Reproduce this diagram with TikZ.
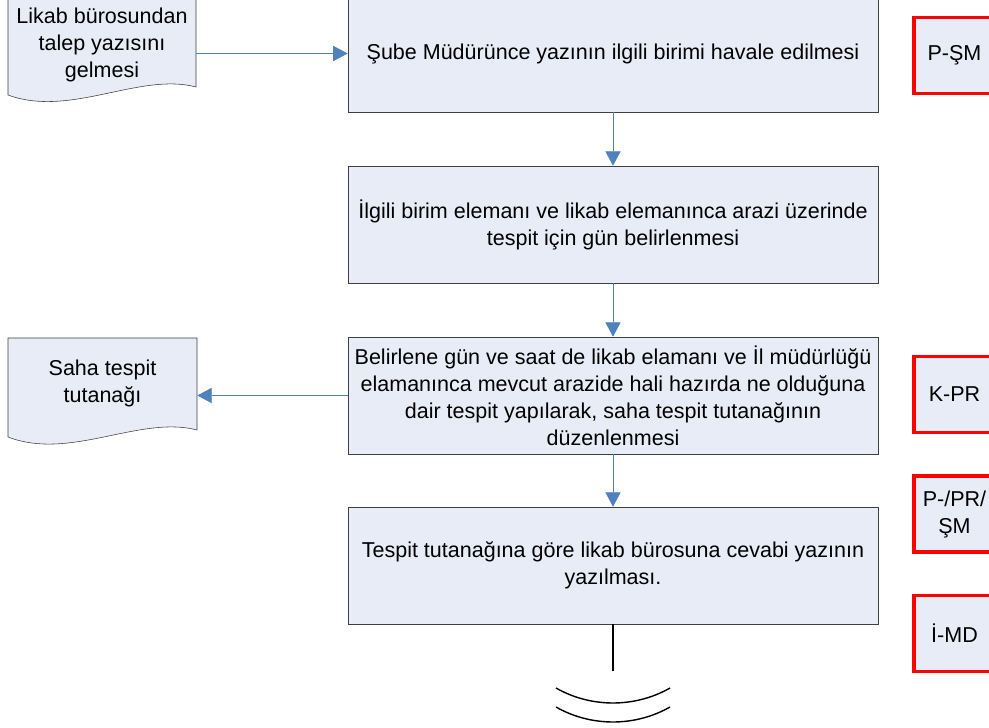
\documentclass[tikz,border=0pt]{standalone}
\usepackage{fontspec}
\setmainfont{Liberation Sans}
\usetikzlibrary{arrows.meta}
\definecolor{boxfill}{HTML}{E8ECF7}
\definecolor{arrowblue}{HTML}{4F81BD}

\begin{document}
\begin{tikzpicture}[x=0.025cm,y=-0.025cm,
    every node/.style={font=\fontsize{15.3}{19.2}\selectfont, align=center},
    stepbox/.style={draw=black!75, fill=boxfill, minimum width=13.25cm, minimum height=2.925cm, inner sep=0pt},
    codebox/.style={draw=red, line width=2.5pt, fill=boxfill, minimum width=2.025cm, minimum height=1.9cm, inner sep=0pt},
    docline/.style={draw=black!75, fill=boxfill},
    flow/.style={arrowblue, -{Triangle[length=0.36cm,width=0.38cm]}}]
    \useasboundingbox (0,0) rectangle (989,728);
    \clip (0,0) rectangle (989,728);
    \draw[docline] (8,-2) -- (196,-2) -- (196,87) .. controls (140,72) and (70,118) .. (8,95) -- cycle;
    \draw[docline] (8,338) -- (197,338) -- (197,430) .. controls (140,415) and (70,461) .. (8,437) -- cycle;
    \node[minimum width=4.7cm](doc1) at (102,45) {Likab bürosundan\\talep yazısını\\gelmesi};
    \node[minimum width=4.725cm](doc2) at (102.5,383) {Saha tespit\\tutanağı};
    \node[stepbox](b1) at (613,53.5) {Şube Müdürünce yazının ilgili birimi havale edilmesi};
    \node[stepbox](b2) at (613,224.5) {İlgili birim elemanı ve likab elemanınca arazi üzerinde\\tespit için gün belirlenmesi};
    \node[stepbox](b3) at (613,395.5) {Belirlene gün ve saat de likab elamanı ve İl müdürlüğü\\elamanınca mevcut arazide hali hazırda ne olduğuna\\dair tespit yapılarak, saha tespit tutanağının\\düzenlenmesi};
    \node[stepbox](b4) at (613,565.5) {Tespit tutanağına göre likab bürosuna cevabi yazının\\yazılması.};
    \node[codebox](c1) at (954.5,55.5) {P-ŞM};
    \node[codebox](c2) at (954.5,394.5) {K-PR};
    \node[codebox](c3) at (954.5,514) {P-/PR/\\ŞM};
    \node[codebox](c4) at (954.5,633.5) {İ-MD};
    \coordinate (tail) at (613,671);
    \draw[flow] (doc1.east |- b1.west) -- (b1.west);
    \draw[flow] (b1) -- (b2);
    \draw[flow] (b2) -- (b3);
    \draw[flow] (b3.west) -- (doc2.east |- b3.west);
    \draw[flow] (b3) -- (b4);
    \draw[line width=1pt] (b4.south) -- (tail);
    \draw[line width=1pt] (556,688) .. controls (591,708) and (635,708) .. (670,688);
    \draw[line width=1pt] (556,707) .. controls (591,727) and (635,727) .. (670,707);
\end{tikzpicture}
\end{document}
